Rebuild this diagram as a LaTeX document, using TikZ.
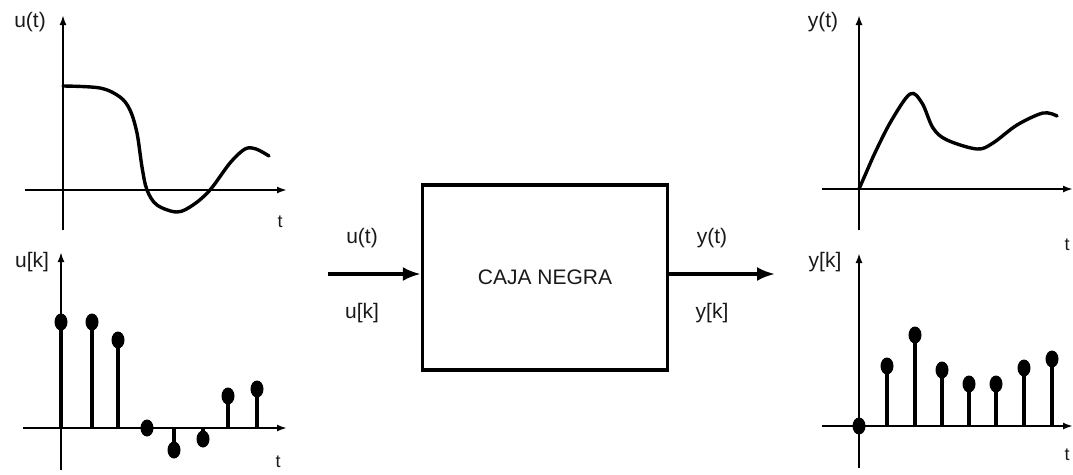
\documentclass[tikz,border=0pt]{standalone}
\usepackage{fontspec}
\setmainfont{Liberation Sans}
\usetikzlibrary{arrows.meta}
\begin{document}
\begin{tikzpicture}[x=1pt,y=-1pt,
  axis/.style={line width=2pt,-{Latex[length=10pt,width=7pt]}},
  signal/.style={line width=3.4pt,line cap=round,line join=round},
  stemline/.style={line width=3.4pt},
  lbl/.style={font=\fontsize{21}{23}\selectfont,text=black!90,inner sep=0pt},
  tlbl/.style={font=\fontsize{18}{20}\selectfont,text=black!90,inner sep=0pt},
  flow/.style={line width=3.4pt,-{Latex[length=18pt,width=14pt]}},
  blackbox/.style={draw,line width=3.4pt,minimum width=245pt,minimum height=185pt,
    font=\fontsize{21}{24}\selectfont,text=black!90}]
\useasboundingbox (0,0) rectangle (1073,474);

% ---- continuous input u(t) ----
\draw[axis] (25,190) -- (287,190);
\draw[axis] (63,230) -- (63,15);
\node[lbl] (ut) at (30,22) {u(t)};
\node[tlbl] (tut) at (280,222) {t};
\draw[signal] plot[smooth,tension=0.55] coordinates {
  (63,86) (100,88) (120,97) (130,110) (137,133) (142,167) (147,190)
  (157,205) (177,212) (193,205) (210,190) (230,163) (245,149) (256,149) (269,156)};

% ---- sampled input u[k] ----
\draw[axis] (23,428) -- (287,428);
\draw[axis] (61,470) -- (61,252);
\node[lbl] (uk) at (32,262) {u[k]};
\node[tlbl] (tuk) at (278,462) {t};
\foreach \x/\y in {61/322,92/322,118/340,147/428,174/450,203/439,228/396,257/389}{
  \draw[stemline] (\x,428) -- (\x,\y);
  \fill (\x,\y) ellipse [x radius=6.5pt,y radius=8.5pt];
}

% ---- system block ----
\node[blackbox] (box) at (545,277.5) {CAJA NEGRA};
\coordinate (inp) at (328,274);
\coordinate (outp) at (775,274);
\draw[flow] (inp) -- (inp -| box.west);
\draw[flow] (outp -| box.east) -- (outp);
\node[lbl] (uin) at (362,238) {u(t)};
\node[lbl] (ukin) at (362,313) {u[k]};
\node[lbl] (yout) at (712,238) {y(t)};
\node[lbl] (ykout) at (712,313) {y[k]};

% ---- continuous output y(t) ----
\draw[axis] (822,189) -- (1073,189);
\draw[axis] (859,230) -- (859,15);
\node[lbl] (yt) at (823,22) {y(t)};
\node[tlbl] (tyt) at (1067,245) {t};
\draw[signal] (859,189) -- (873,157) plot[smooth,tension=0.55] coordinates {
  (873,157) (890,123) (910,94) (922,103) (933,128) (947,140) (977,149)
  (993,143) (1017,125) (1043,113) (1057,116)};

% ---- sampled output y[k] ----
\draw[axis] (822,426) -- (1073,426);
\draw[axis] (859,468) -- (859,253);
\node[lbl] (yk) at (825,262) {y[k]};
\node[tlbl] (tyk) at (1067,455) {t};
\foreach \x/\y in {859/426,887/366,915/335,942/370,969/384,996/384,1024/368,1052/359}{
  \draw[stemline] (\x,426) -- (\x,\y);
  \fill (\x,\y) ellipse [x radius=6.5pt,y radius=8.5pt];
}
\end{tikzpicture}
\end{document}
